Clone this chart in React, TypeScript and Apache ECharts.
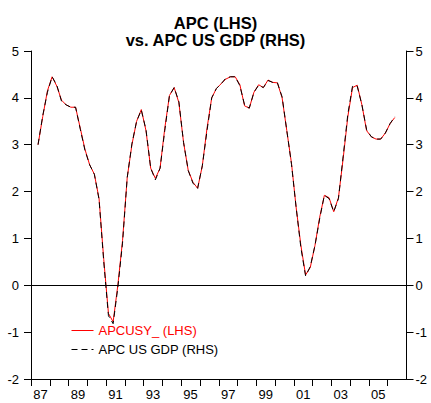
import React, { useEffect, useRef } from "react";
import * as echarts from "echarts";

const startYear = 1987;
const startQuarter = 2;

const apcusyLHS = [
  3.0, 3.6, 4.15, 4.45, 4.25, 3.95, 3.85, 3.8, 3.8, 3.35,
  2.9, 2.57, 2.37, 1.85, 0.55, -0.6, -0.78, 0.0, 0.95, 2.3,
  3.0, 3.5, 3.75, 3.3, 2.5, 2.28, 2.5, 3.35, 4.05, 4.22,
  3.9, 3.05, 2.45, 2.2, 2.07, 2.55, 3.35, 4.0, 4.2, 4.3,
  4.4, 4.45, 4.45, 4.28, 3.83, 3.78, 4.12, 4.28, 4.22, 4.38,
  4.33, 4.32, 4.0, 3.3, 2.6, 1.65, 0.85, 0.22, 0.38, 0.85,
  1.45, 1.92, 1.87, 1.57, 1.87, 2.7, 3.6, 4.22, 4.27, 3.85,
  3.3, 3.17, 3.12, 3.12, 3.25, 3.45, 3.58,
];

const apcUsGdpRHS = [
  3.0, 3.62, 4.12, 4.45, 4.27, 3.93, 3.85, 3.8, 3.8, 3.33,
  2.88, 2.57, 2.37, 1.83, 0.5, -0.65, -0.82, -0.05, 0.9, 2.3,
  3.02, 3.5, 3.74, 3.32, 2.5, 2.25, 2.5, 3.3, 4.05, 4.22,
  3.92, 3.05, 2.45, 2.18, 2.07, 2.55, 3.3, 4.0, 4.2, 4.3,
  4.42, 4.45, 4.45, 4.26, 3.85, 3.78, 4.12, 4.27, 4.22, 4.37,
  4.33, 4.32, 4.02, 3.3, 2.58, 1.65, 0.8, 0.2, 0.4, 0.85,
  1.42, 1.92, 1.85, 1.57, 1.85, 2.75, 3.65, 4.25, 4.25, 3.85,
  3.32, 3.17, 3.12, 3.12, 3.25, 3.45, 3.6,
];

const yearTicks = [
  1987, 1988, 1989, 1990, 1991, 1992, 1993, 1994, 1995, 1996,
  1997, 1998, 1999, 2000, 2001, 2002, 2003, 2004, 2005, 2006,
];
const yearLabels = ["87", "89", "91", "93", "95", "97", "99", "01", "03", "05"];
const yearLabelPositions = [1987.5, 1989.5, 1991.5, 1993.5, 1995.5, 1997.5, 1999.5, 2001.5, 2003.5, 2005.5];

const titleLines = ["APC (LHS)", "vs. APC US GDP (RHS)"];
const seriesNames = ["APCUSY_ (LHS)", "APC US GDP (RHS)"];

const FONT = "'Liberation Sans', Arial, sans-serif";

function toPoints(values: number[]) {
  return values.map((v, i) => {
    const q = startQuarter - 1 + i;
    const x = startYear + Math.floor(q / 4) + ((q % 4) + 0.5) / 4;
    return [x, v];
  });
}

export default function App() {
  const ref = useRef<HTMLDivElement>(null);
  useEffect(() => {
    if (!ref.current) return;
    const chart = echarts.init(ref.current, null, { renderer: "svg" });
    const yAxisCommon = {
      type: "value",
      min: -2,
      max: 5,
      interval: 1,
      axisLine: { show: true, lineStyle: { color: "#000", width: 1 } },
      axisTick: { show: true, inside: false, length: 7, lineStyle: { color: "#000" } },
      splitLine: { show: false },
    };
    chart.setOption({
      animation: false,
      backgroundColor: "#fff",
      title: {
        text: titleLines.join("\n"),
        left: "center",
        top: 9,
        textStyle: {
          fontFamily: FONT,
          fontSize: 16.5,
          fontWeight: "bold",
          color: "#000",
          lineHeight: 17,
        },
      },
      grid: { left: 31, right: 24.5, top: 51, bottom: 24 },
      legend: {
        orient: "vertical",
        left: 66,
        top: 319,
        itemWidth: 22,
        itemHeight: 14,
        itemGap: 6,
        itemStyle: { opacity: 0 },
        lineStyle: { width: 1 },
        textStyle: { fontFamily: FONT, fontSize: 13 },
        data: [
          { name: seriesNames[0], textStyle: { color: "#ff0000" } },
          { name: seriesNames[1], textStyle: { color: "#000" } },
        ],
      },
      xAxis: {
        type: "value",
        min: 1987,
        max: 2007,
        axisLine: { show: true, onZero: false, lineStyle: { color: "#000" } },
        axisTick: {
          show: true,
          length: 7,
          customValues: yearTicks,
          lineStyle: { color: "#000" },
        },
        axisLabel: {
          customValues: yearLabelPositions,
          formatter: (v: number) => {
            const idx = yearLabelPositions.indexOf(v);
            return idx >= 0 ? yearLabels[idx] : "";
          },
          margin: 9,
          color: "#000",
          fontFamily: FONT,
          fontSize: 13,
        },
        splitLine: { show: false },
      },
      yAxis: [
        {
          ...yAxisCommon,
          position: "left",
          axisLabel: { margin: 12, color: "#000", fontFamily: FONT, fontSize: 13 },
        },
        {
          ...yAxisCommon,
          position: "right",
          axisLabel: { margin: 9, color: "#000", fontFamily: FONT, fontSize: 13 },
        },
      ],
      series: [
        {
          name: seriesNames[0],
          type: "line",
          yAxisIndex: 0,
          data: toPoints(apcusyLHS),
          symbol: "none",
          lineStyle: { color: "#ff0000", width: 1 },
          itemStyle: { color: "#ff0000" },
          markLine: {
            silent: true,
            symbol: "none",
            label: { show: false },
            lineStyle: { color: "#000", width: 1, type: "solid" },
            data: [{ yAxis: 0 }],
          },
        },
        {
          name: seriesNames[1],
          type: "line",
          yAxisIndex: 1,
          data: toPoints(apcUsGdpRHS),
          symbol: "none",
          lineStyle: { color: "#000", width: 1, type: [6, 4] },
          itemStyle: { color: "#000" },
        },
      ],
    });
    return () => chart.dispose();
  }, []);
  return (
    <div
      ref={ref}
      style={{ position: "fixed", left: 0, top: 0, width: 431, height: 403, background: "#fff" }}
    />
  );
}
